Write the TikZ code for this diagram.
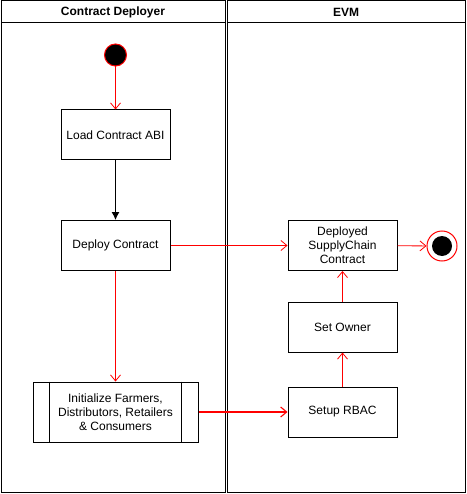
\documentclass[tikz,border=0pt]{standalone}
\usepackage{fontspec}
\setmainfont{Liberation Sans}
\usetikzlibrary{arrows.meta}
\begin{document}
\begin{tikzpicture}[x=1pt, y=-1pt, line width=1pt]
    \tikzset{>={Latex[length=8pt, width=8pt]}}
    \tikzset{actbox/.style={draw, rectangle, minimum width=109pt, minimum height=50pt, align=center, font=\fontsize{12}{14}\selectfont}}
    \tikzset{redarr/.style={draw=red, line width=0.8pt, -{Straight Barb[length=6pt, width=10pt]}}}
    \useasboundingbox (0,0) rectangle (466,494);

    % lanes
    \draw (1,1) rectangle (225,492);
    \draw (227,1) rectangle (465,492);
    \draw (1,23) -- (225,23);
    \draw (227,23) -- (465,23);
    \node[font=\fontsize{12}{14}\selectfont\bfseries] (laneA) at (113,12) {Contract Deployer};
    \node[font=\fontsize{12}{14}\selectfont\bfseries] (laneB) at (346,12) {EVM};

    \node[circle, draw=red, fill=black, minimum size=22pt, inner sep=0pt] (start) at (115.5,55) {};
    \node[actbox] (load) at (115.5,135) {Load Contract ABI};
    \node[actbox] (deploy) at (115.5,245.5) {Deploy Contract};
    \node[actbox, minimum width=165pt, minimum height=60pt] (init) at (115.5,412)
	{Initialize Farmers,\\Distributors, Retailers\\\& Consumers};
    \draw (init.north west) ++(17,0) -- ++(0,60);
    \draw (init.north east) ++(-17,0) -- ++(0,60);

    \node[actbox] (deployed) at (342.5,245.5) {Deployed\\SupplyChain\\Contract};
    \node[actbox] (owner) at (342.5,327) {Set Owner};
    \node[actbox] (rbac) at (342.5,412) {Setup RBAC};
    \node[circle, draw=red, fill=white, minimum size=30pt, inner sep=0pt] (stop) at (442,246) {};
    \node[circle, fill=black, minimum size=20pt, inner sep=0pt] (stopdot) at (stop) {};

    \draw [redarr] (start) -- (load);
    \draw [->] (load) -- (deploy);
    \draw [redarr] (deploy) -- (deployed);
    \draw [redarr] (deploy) -- (init);
    \draw [redarr, line width=1.1pt] (init) -- (rbac);
    \draw [redarr] (rbac) -- (owner);
    \draw [redarr] (owner) -- (deployed);
    \draw [redarr] (deployed) -- (stop);
\end{tikzpicture}
\end{document}
